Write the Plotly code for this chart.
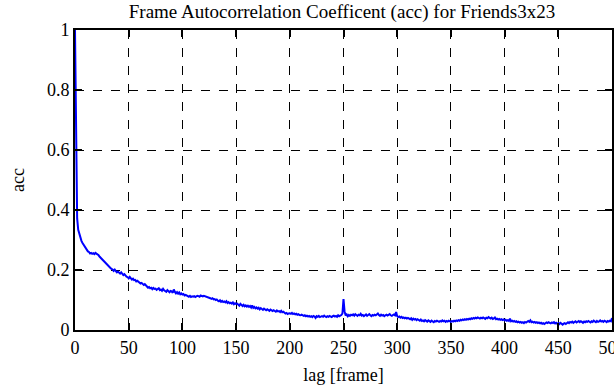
import plotly.graph_objects as go

title_text = "Frame Autocorrelation Coefficent (acc) for Friends3x23"
x_label = "lag [frame]"
y_label = "acc"
x_ticks = [0, 50, 100, 150, 200, 250, 300, 350, 400, 450, 500]
y_ticks = [0, 0.2, 0.4, 0.6, 0.8, 1]
y_tick_labels = ["0", "0.2", "0.4", "0.6", "0.8", "1"]

acc = [
    1.000, 0.672, 0.372, 0.334, 0.318, 0.309, 0.297, 0.290, 0.284, 0.277,
    0.271, 0.268, 0.262, 0.260, 0.255, 0.257, 0.254, 0.256, 0.253, 0.257,
    0.255, 0.252, 0.249, 0.244, 0.240, 0.236, 0.233, 0.229, 0.226, 0.221,
    0.218, 0.213, 0.210, 0.207, 0.204, 0.202, 0.197, 0.201, 0.196, 0.192,
    0.195, 0.190, 0.188, 0.192, 0.185, 0.183, 0.186, 0.180, 0.178, 0.176,
    0.172, 0.177, 0.170, 0.168, 0.171, 0.166, 0.167, 0.162, 0.164, 0.160,
    0.158, 0.155, 0.157, 0.152, 0.150, 0.153, 0.147, 0.145, 0.141, 0.143,
    0.139, 0.141, 0.136, 0.140, 0.137, 0.138, 0.134, 0.136, 0.139, 0.133,
    0.135, 0.131, 0.137, 0.132, 0.130, 0.127, 0.133, 0.128, 0.126, 0.130,
    0.129, 0.124, 0.135, 0.127, 0.122, 0.126, 0.121, 0.125, 0.119, 0.122,
    0.118, 0.120, 0.115, 0.117, 0.114, 0.113, 0.111, 0.114, 0.110, 0.112,
    0.111, 0.113, 0.110, 0.112, 0.114, 0.113, 0.111, 0.115, 0.114, 0.112,
    0.114, 0.113, 0.112, 0.110, 0.108, 0.109, 0.106, 0.104, 0.106, 0.102,
    0.103, 0.100, 0.102, 0.098, 0.096, 0.099, 0.094, 0.097, 0.093, 0.095,
    0.092, 0.096, 0.090, 0.093, 0.089, 0.091, 0.088, 0.092, 0.086, 0.089,
    0.087, 0.088, 0.084, 0.081, 0.087, 0.083, 0.080, 0.084, 0.079, 0.082,
    0.078, 0.081, 0.077, 0.080, 0.075, 0.082, 0.074, 0.077, 0.072, 0.075,
    0.071, 0.074, 0.069, 0.073, 0.070, 0.067, 0.071, 0.068, 0.066, 0.069,
    0.067, 0.064, 0.068, 0.065, 0.063, 0.066, 0.064, 0.061, 0.065, 0.062,
    0.063, 0.060, 0.064, 0.059, 0.061, 0.058, 0.055, 0.057, 0.053, 0.055,
    0.056, 0.054, 0.057, 0.053, 0.055, 0.052, 0.054, 0.051, 0.053, 0.050,
    0.049, 0.051, 0.048, 0.047, 0.049, 0.046, 0.048, 0.045, 0.047, 0.044,
    0.046, 0.043, 0.047, 0.045, 0.040, 0.046, 0.044, 0.047, 0.043, 0.045,
    0.046, 0.044, 0.048, 0.045, 0.043, 0.046, 0.044, 0.047, 0.045, 0.043,
    0.046, 0.048, 0.045, 0.047, 0.044, 0.049, 0.046, 0.048, 0.050, 0.055,
    0.103, 0.062, 0.048, 0.052, 0.046, 0.050, 0.047, 0.051, 0.049, 0.052,
    0.048, 0.053, 0.050, 0.047, 0.051, 0.049, 0.054, 0.048, 0.050, 0.046,
    0.049, 0.052, 0.047, 0.050, 0.053, 0.049, 0.046, 0.050, 0.048, 0.051,
    0.049, 0.052, 0.055, 0.050, 0.047, 0.051, 0.048, 0.050, 0.046, 0.049,
    0.051, 0.048, 0.050, 0.053, 0.049, 0.047, 0.050, 0.052, 0.049, 0.060,
    0.046, 0.043, 0.045, 0.041, 0.044, 0.040, 0.042, 0.039, 0.041, 0.038,
    0.040, 0.037, 0.036, 0.039, 0.034, 0.038, 0.035, 0.037, 0.033, 0.036,
    0.034, 0.031, 0.035, 0.030, 0.032, 0.029, 0.033, 0.031, 0.028, 0.032,
    0.030, 0.027, 0.031, 0.029, 0.026, 0.030, 0.028, 0.031, 0.029, 0.027,
    0.030, 0.028, 0.032, 0.029, 0.031, 0.027, 0.030, 0.028, 0.031, 0.029,
    0.027, 0.030, 0.028, 0.031, 0.029, 0.032, 0.030, 0.033, 0.031, 0.034,
    0.032, 0.035, 0.033, 0.036, 0.034, 0.037, 0.035, 0.038, 0.036, 0.039,
    0.037, 0.040, 0.038, 0.041, 0.039, 0.042, 0.040, 0.038, 0.041, 0.039,
    0.042, 0.040, 0.037, 0.041, 0.039, 0.043, 0.040, 0.038, 0.041, 0.037,
    0.039, 0.042, 0.036, 0.038, 0.035, 0.037, 0.034, 0.036, 0.033, 0.035,
    0.032, 0.034, 0.031, 0.033, 0.030, 0.038, 0.029, 0.031, 0.028, 0.030,
    0.027, 0.029, 0.026, 0.028, 0.025, 0.027, 0.024, 0.026, 0.023, 0.027,
    0.025, 0.028, 0.030, 0.027, 0.032, 0.026, 0.028, 0.025, 0.027, 0.024,
    0.026, 0.023, 0.025, 0.022, 0.024, 0.021, 0.023, 0.020, 0.022, 0.025,
    0.023, 0.026, 0.024, 0.022, 0.025, 0.023, 0.026, 0.022, 0.024, 0.021,
    0.023, 0.020, 0.024, 0.022, 0.018, 0.021, 0.023, 0.020, 0.024, 0.026,
    0.023, 0.027, 0.025, 0.028, 0.024, 0.026, 0.029, 0.025, 0.027, 0.030,
    0.026, 0.029, 0.027, 0.024, 0.028, 0.026, 0.029, 0.027, 0.030, 0.028,
    0.025, 0.029, 0.027, 0.031, 0.028, 0.026, 0.030, 0.027, 0.029, 0.032,
    0.028, 0.030, 0.027, 0.031, 0.029, 0.026, 0.030, 0.028, 0.031, 0.029,
    0.040,
]
lag = list(range(len(acc)))

font_family = "Liberation Serif"

fig = go.Figure()
fig.add_trace(go.Scatter(
    x=lag, y=acc, mode="lines",
    line=dict(color="#0000ff", width=2),
    showlegend=False,
))

axis_common = dict(
    showline=True, linecolor="black", linewidth=2, mirror="ticks",
    ticks="inside", ticklen=7, tickwidth=2, tickcolor="black",
    showgrid=True, gridcolor="black", gridwidth=1, griddash="dash",
    zeroline=False, automargin=False, ticklabeloverflow="allow",
    tickfont=dict(family=font_family, size=18, color="black"),
)

fig.update_layout(
    width=614, height=385,
    font=dict(family=font_family, size=18, color="black"),
    margin=dict(l=75, r=2, t=30, b=55, autoexpand=False),
    paper_bgcolor="white", plot_bgcolor="white",
    title=dict(text=title_text, x=342 / 614, xanchor="center",
               y=1 - 11 / 385, yanchor="middle",
               font=dict(family=font_family, size=19, color="black")),
    xaxis=dict(range=[0, 500], tickvals=x_ticks,
               title=dict(text=x_label, standoff=14,
                          font=dict(family=font_family, size=18, color="black")),
               **axis_common),
    yaxis=dict(range=[0, 1], tickvals=y_ticks, ticktext=y_tick_labels,
               title=dict(text=y_label, standoff=18,
                          font=dict(family=font_family, size=18, color="black")),
               **axis_common),
)

fig.write_html("out.html", config={"displayModeBar": False},
               post_script="document.body.style.margin='0';")
